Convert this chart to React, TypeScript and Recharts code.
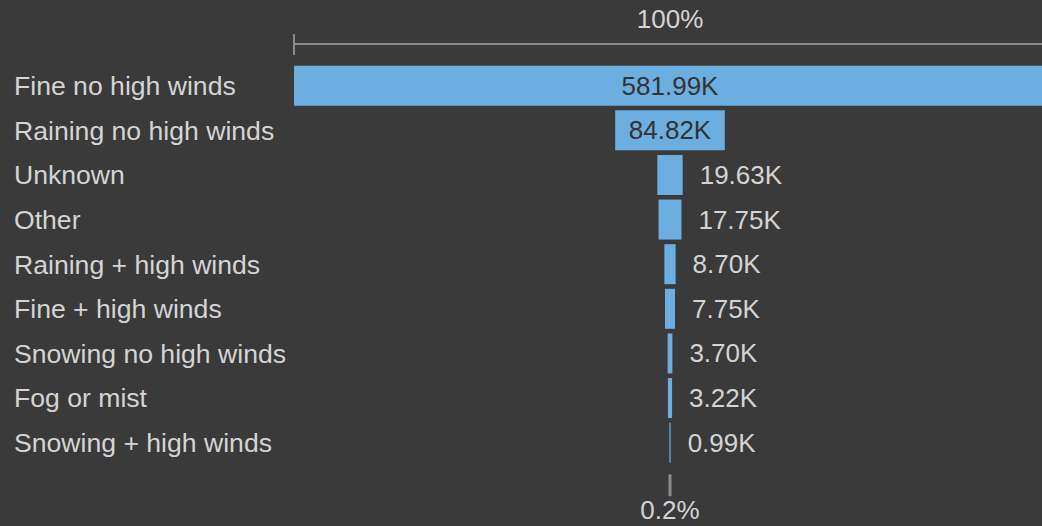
import React from "react";
import { BarChart, Bar, XAxis, YAxis } from "recharts";

const CATEGORIES = [
  "Fine no high winds",
  "Raining no high winds",
  "Unknown",
  "Other",
  "Raining + high winds",
  "Fine + high winds",
  "Snowing no high winds",
  "Fog or mist",
  "Snowing + high winds",
];
const VALUES = [581990, 84820, 19630, 17750, 8700, 7750, 3700, 3220, 990];

const MAX = Math.max(...VALUES);
const data = CATEGORIES.map((name, i) => ({
  name,
  pad: (MAX - VALUES[i]) / 2,
  value: VALUES[i],
}));

const TOP_PCT = `${Math.round((VALUES[0] / VALUES[0]) * 100)}%`;
const BOTTOM_PCT = `${((VALUES[VALUES.length - 1] / VALUES[0]) * 100).toFixed(1)}%`;

const BG = "#3a3a3a";
const BAR = "#6daee0";
const TEXT = "#d4d4d4";
const AXIS = "#8c8c8c";
const FONT = "'Liberation Sans', Arial, sans-serif";
const FS = 26;

const fmt = (v: number) => `${(v / 1000).toFixed(2)}K`;

const TopTick = (props: any) => {
  const { x, y, payload } = props;
  if (payload.value === 0) {
    return <line x1={x} x2={x} y1={y - 10} y2={y + 11} stroke={AXIS} strokeWidth={2} />;
  }
  return (
    <text x={x} y={y - 16} textAnchor="middle" fill={TEXT} fontSize={FS} fontFamily={FONT}>
      {TOP_PCT}
    </text>
  );
};

const BottomTick = (props: any) => {
  const { x, y } = props;
  return (
    <g>
      <line x1={x} x2={x} y1={y + 9} y2={y + 31} stroke={AXIS} strokeWidth={3} />
      <text x={x} y={y + 54} textAnchor="middle" fill={TEXT} fontSize={FS} fontFamily={FONT}>
        {BOTTOM_PCT}
      </text>
    </g>
  );
};

const LeftTick = (props: any) => {
  const { y, payload } = props;
  return (
    <text x={14} y={y + 9} textAnchor="start" fill={TEXT} fontSize={26.6} fontFamily={FONT}>
      {payload.value}
    </text>
  );
};

const renderLabel = (props: any) => {
  const { x, y, width, height, index } = props;
  const v = data[index].value;
  const cy = y + height / 2 + 9;
  if (width > 100) {
    return (
      <text x={x + width / 2} y={cy} textAnchor="middle" fill="#333333" fontSize={FS} fontFamily={FONT}>
        {fmt(v)}
      </text>
    );
  }
  return (
    <text x={x + width + 17} y={cy} textAnchor="start" fill={TEXT} fontSize={FS} fontFamily={FONT}>
      {fmt(v)}
    </text>
  );
};

export default function App() {
  return (
    <div
      style={{
        width: 1042,
        height: 526,
        position: "fixed",
        left: 0,
        top: 0,
        overflow: "hidden",
        background: BG,
      }}
    >
      <BarChart
        width={1046}
        height={526}
        data={data}
        layout="vertical"
        margin={{ top: 0, right: 0, bottom: 0, left: 0 }}
        barSize={40}
      >
        <XAxis
          xAxisId="top"
          orientation="top"
          type="number"
          domain={[0, MAX]}
          ticks={[0, MAX / 2]}
          height={44}
          axisLine={{ stroke: AXIS, strokeWidth: 2 }}
          tickLine={false}
          tickSize={0}
          tickMargin={0}
          tick={<TopTick />}
          interval={0}
          allowDataOverflow
        />
        <XAxis
          xAxisId="bottom"
          orientation="bottom"
          type="number"
          domain={[0, MAX]}
          ticks={[MAX / 2]}
          height={60.7}
          axisLine={false}
          tickLine={false}
          tickSize={0}
          tickMargin={0}
          tick={<BottomTick />}
          interval={0}
          allowDataOverflow
        />
        <YAxis
          type="category"
          dataKey="name"
          width={294}
          axisLine={false}
          tickLine={false}
          tick={<LeftTick />}
          interval={0}
          padding={{ top: 19.7, bottom: 0 }}
        />
        <Bar xAxisId="bottom" dataKey="pad" stackId="f" fill="transparent" isAnimationActive={false} />
        <Bar
          xAxisId="bottom"
          dataKey="value"
          stackId="f"
          fill={BAR}
          isAnimationActive={false}
          label={renderLabel}
        />
      </BarChart>
    </div>
  );
}
